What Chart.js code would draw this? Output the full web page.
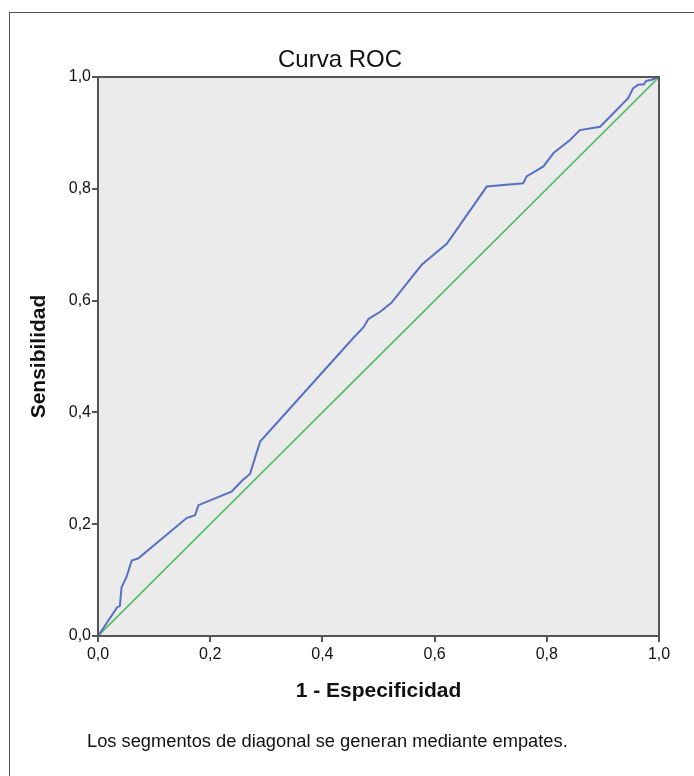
<!DOCTYPE html>
<html>
<head>
<meta charset="utf-8">
<script src="https://cdn.jsdelivr.net/npm/chart.js@4"></script>
<style>
  body { margin:0; background:#fff; }
  #wrap { position:relative; width:694px; height:776px; overflow:hidden; }
  #frame { position:absolute; left:9px; top:12px; width:720px; height:800px; border-left:1px solid #555; border-top:1px solid #555; }
  #title { position:absolute; left:240px; width:200px; top:45px; text-align:center; font:24px "Liberation Sans", Arial, sans-serif; color:#111; }
  #note { position:absolute; left:87px; top:730px; font:18.3px "Liberation Sans", Arial, sans-serif; color:#111; }
  canvas { position:absolute; left:0; top:0; }
</style>
</head>
<body>
<div id="wrap">
  <div id="frame"></div>
  <canvas id="roc" width="694" height="776"></canvas>
  <div id="title">Curva ROC</div>
  <div id="note">Los segmentos de diagonal se generan mediante empates.</div>
</div>
<script>
'use strict';

// 1 - especificidad / sensibilidad
const fpr = [0, 0.034, 0.039, 0.042, 0.051, 0.060, 0.072, 0.158, 0.173, 0.179, 0.238, 0.258, 0.271, 0.289,
  0.455, 0.473, 0.482, 0.503, 0.523, 0.577, 0.622, 0.693, 0.758, 0.764, 0.794, 0.812, 0.841, 0.859, 0.895,
  0.945, 0.954, 0.963, 0.973, 0.977, 0.987, 1];
const tpr = [0, 0.051, 0.054, 0.087, 0.106, 0.135, 0.139, 0.211, 0.216, 0.234, 0.258, 0.279, 0.290, 0.348,
  0.533, 0.552, 0.567, 0.580, 0.596, 0.664, 0.702, 0.804, 0.810, 0.822, 0.840, 0.864, 0.887, 0.905, 0.911,
  0.962, 0.980, 0.986, 0.987, 0.993, 0.995, 1];
const refLine = [0, 1];
const ticks = [0, 0.2, 0.4, 0.6, 0.8, 1.0];

const FONT = '"Liberation Sans", Arial, sans-serif';
const fmtTick = v => v.toFixed(1).replace('.', ',');

const plotBg = {
  id: 'plotBg',
  beforeDraw(chart) {
    const {ctx, chartArea: a} = chart;
    ctx.save(); ctx.fillStyle = '#ebebeb';
    ctx.fillRect(a.left, a.top, a.right - a.left, a.bottom - a.top);
    ctx.restore();
  },
  afterDraw(chart) {
    const {ctx, chartArea: a} = chart;
    ctx.save(); ctx.strokeStyle = '#555'; ctx.lineWidth = 2;
    ctx.strokeRect(a.left, a.top, a.right - a.left, a.bottom - a.top);
    ctx.restore();
  }
};

new Chart(document.getElementById('roc'), {
  type: 'scatter',
  data: {
    datasets: [
      { data: fpr.map((x, i) => ({x, y: tpr[i]})), showLine: true, borderColor: '#5870c0', borderWidth: 2, pointRadius: 0, tension: 0 },
      { data: refLine.map(v => ({x: v, y: v})), showLine: true, borderColor: '#55bb6c', borderWidth: 1.6, pointRadius: 0 }
    ]
  },
  options: {
    responsive: false,
    animation: false,
    layout: { padding: { left: 0, right: 35, top: 77, bottom: 72 } },
    plugins: {
      legend: { display: false },
      tooltip: { enabled: false },
      title: { display: false }
    },
    scales: {
      x: {
        type: 'linear', min: 0, max: 1,
        afterBuildTicks: s => { s.ticks = ticks.map(v => ({value: v})); },
        afterFit: s => { s.height = 68; },
        grid: { drawOnChartArea: false, color: '#555', lineWidth: 2, tickLength: 6 },
        border: { color: '#555', width: 2 },
        ticks: { color: '#111', font: { family: FONT, size: 16 }, padding: 3, callback: fmtTick, maxRotation: 0 },
        title: { display: true, text: '1 - Especificidad', color: '#111', font: { family: FONT, size: 21, weight: 'bold' }, padding: 0 }
      },
      y: {
        type: 'linear', min: 0, max: 1,
        afterBuildTicks: s => { s.ticks = ticks.map(v => ({value: v})); },
        afterFit: s => { s.width = 98; },
        grid: { drawOnChartArea: false, color: '#555', lineWidth: 2, tickLength: 6 },
        border: { color: '#555', width: 2 },
        ticks: { color: '#111', font: { family: FONT, size: 16 }, padding: 1, callback: fmtTick },
        title: { display: true, text: 'Sensibilidad', color: '#111', font: { family: FONT, size: 21, weight: 'bold' }, padding: { top: 27, bottom: 0 } }
      }
    }
  },
  plugins: [plotBg]
});
</script>
</body>
</html>
